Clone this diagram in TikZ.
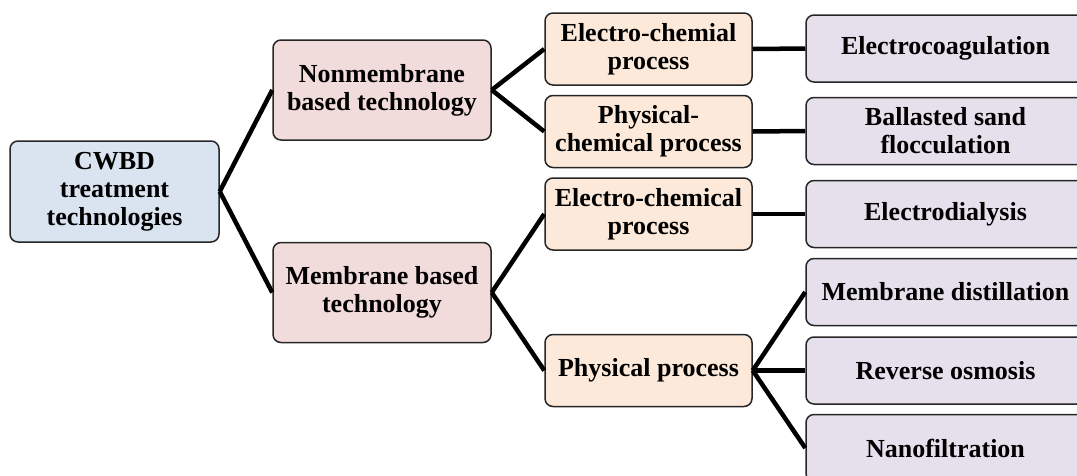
\documentclass[tikz,border=0pt]{standalone}
\usepackage{fontspec}
\setmainfont{Liberation Serif}
\usepackage{tikz}
\definecolor{rootblue}{RGB}{218,227,240}
\definecolor{techpink}{RGB}{242,220,219}
\definecolor{procorange}{RGB}{252,233,218}
\definecolor{methpurple}{RGB}{229,224,236}

\begin{document}
\begin{tikzpicture}[x=1pt,y=-1pt]
    \tikzstyle{box}=[rectangle, draw=black!85, line width=1.5pt, rounded corners=8pt, align=center, inner sep=2pt, font=\fontsize{26}{28}\selectfont\bfseries]
    \tikzstyle{level 0}=[box, fill=rootblue, minimum width=209pt, minimum height=101pt]
    \tikzstyle{level 1}=[box, fill=techpink, minimum width=218pt, minimum height=100pt]
    \tikzstyle{level 2}=[box, fill=procorange, minimum width=207pt, minimum height=72pt]
    \tikzstyle{level 3}=[box, fill=methpurple, minimum width=279pt, minimum height=67pt]
    \tikzstyle{edge}=[draw, line width=4.5pt]
    \useasboundingbox (0,0) rectangle (1077,475);
    \clip (0,0) rectangle (1077,475);
    % root
    \node[level 0] (cwbd) at (114.5,191.5) {CWBD\\treatment\\technologies};
    % technologies
    \node[level 1] (nonmem) at (382,90) {Nonmembrane\\based technology};
    \node[level 1] (mem) at (382,292.5) {Membrane based\\technology};
    % processes
    \node[level 2] (ecnon) at (648.5,49) {Electro-chemial\\process};
    \node[level 2] (pcnon) at (648.5,131.5) {Physical-\\chemical process};
    \node[level 2] (ecmem) at (648.5,214) {Electro-chemical\\process};
    \node[level 2] (phmem) at (648.5,370.5) {Physical process};
    % methods
    \node[level 3] (ecoag) at (945.5,48.5) {Electrocoagulation};
    \node[level 3] (bsand) at (945.5,131) {Ballasted sand\\flocculation};
    \node[level 3] (edial) at (945.5,214) {Electrodialysis};
    \node[level 3] (mdist) at (945.5,292) {Membrane distillation};
    \node[level 3] (rosm) at (945.5,370.5) {Reverse osmosis};
    \node[level 3] (nanof) at (945.5,448) {Nanofiltration};
    % connectors
    \draw[edge] (cwbd.east) -- (nonmem.west);
    \draw[edge] (cwbd.east) -- (mem.west);
    \draw[edge] (nonmem.east) -- (ecnon.west);
    \draw[edge] (nonmem.east) -- (pcnon.west);
    \draw[edge] (mem.east) -- (ecmem.west);
    \draw[edge] (mem.east) -- (phmem.west);
    \draw[edge] (ecnon.east) -- (ecoag.west);
    \draw[edge] (pcnon.east) -- (bsand.west);
    \draw[edge] (ecmem.east) -- (edial.west);
    \draw[edge] (phmem.east) -- (mdist.west);
    \draw[edge] (phmem.east) -- (rosm.west);
    \draw[edge] (phmem.east) -- (nanof.west);
\end{tikzpicture}
\end{document}
